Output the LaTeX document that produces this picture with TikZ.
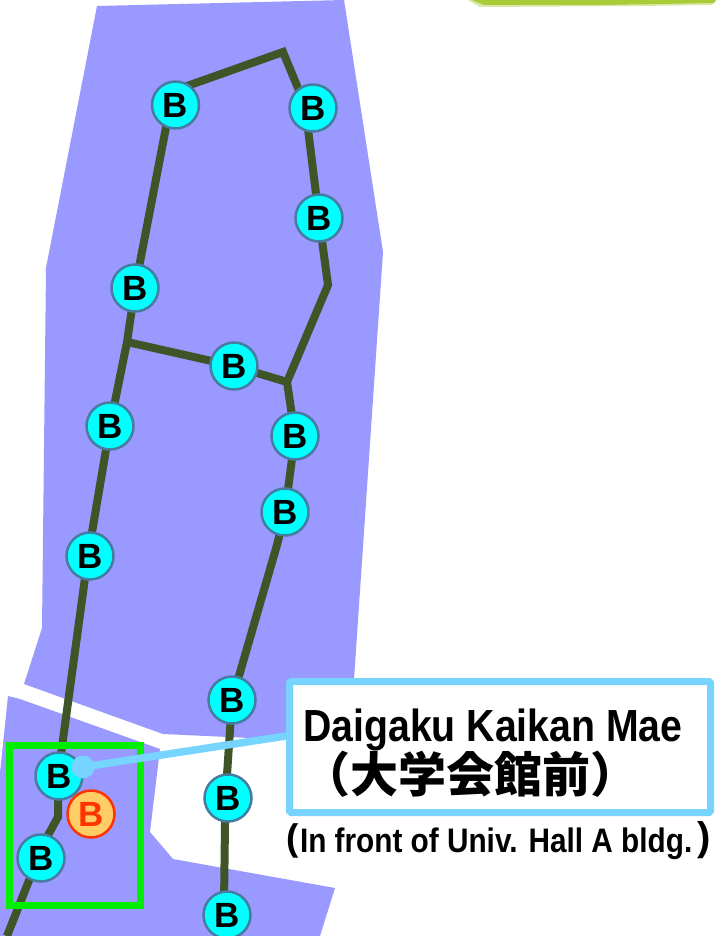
\documentclass[tikz,border=0pt]{standalone}
\usepackage{fontspec}
\setmainfont{Liberation Sans}
\newfontfamily\cjkfont{Noto Sans CJK JP}
\definecolor{region}{HTML}{9999FF}
\definecolor{route}{HTML}{3F5527}
\definecolor{stopedge}{HTML}{457CA0}
\definecolor{stopfill}{HTML}{00FFFF}
\definecolor{callout}{HTML}{77D4FF}
\definecolor{framegreen}{HTML}{00EE00}
\definecolor{leaf}{HTML}{A9CB37}
\definecolor{herered}{HTML}{FF3300}
\definecolor{herefill}{HTML}{FFCC66}
\tikzset{
  area/.style={fill=region,draw=none},
  routeline/.style={draw=route,line width=8pt,line join=miter},
  busstop/.style={circle,draw=stopedge,line width=2.5pt,fill=stopfill,minimum size=47pt,inner sep=0pt,text=black,font=\bfseries\fontsize{35}{35}\selectfont},
  herestop/.style={circle,draw=herered,line width=2.5pt,fill=herefill,minimum size=47pt,inner sep=0pt,text=herered,font=\bfseries\fontsize{35}{35}\selectfont},
  linktext/.style={anchor=base west,inner sep=0pt,text=black},
}
\begin{document}
\begin{tikzpicture}[x=1pt,y=-1pt]
\useasboundingbox (0,0) rectangle (716,936);
\fill[white] (0,0) rectangle (716,936);
% green strip at the top right
\fill[leaf!45!white] (468,0) -- (716,0) -- (712,5) -- (640,6) -- (480,7) -- cycle;
\fill[leaf] (472,0) -- (716,0) -- (714,3) -- (600,5) -- (484,5) -- cycle;
% regions
\fill[area] (97,6) -- (344,0) -- (383,252) -- (350,738) -- (250,738) -- (163,734) -- (24,684) -- (42,628) -- (46,268) -- cycle;
\fill[area] (8,696) -- (20,699) -- (160,749) -- (150,832) -- (173,859) -- (335,888) -- (320,936) -- (0,936) -- (0,773) -- cycle;
% route
\coordinate (start) at (7,936);
\coordinate (a1) at (28,883);
\coordinate (a2) at (47,837);
\coordinate (a3) at (58,817);
\coordinate (a4) at (58,776);
\coordinate (a5) at (88,556);
\coordinate (a6) at (110,426);
\coordinate (junction) at (127,342);
\coordinate (a7) at (135,288);
\coordinate (a8) at (173,91);
\coordinate (top) at (283,52);
\coordinate (a9) at (305,105);
\coordinate (a10) at (319,218);
\coordinate (bendB) at (328,285);
\coordinate (fork) at (287,382);
\coordinate (a11) at (295,436);
\coordinate (a12) at (285,512);
\coordinate (bendC) at (277,545);
\coordinate (a13) at (232,700);
\coordinate (a14) at (227,775);
\coordinate (a15) at (225,823);
\coordinate (a16) at (224,905);
\coordinate (a17) at (234,366);
\draw[routeline] (start) -- (a1) -- (a2) -- (a3) -- (a4) -- (a5) -- (a6) -- (junction) -- (a7) -- (a8) -- (top) -- (a9) -- (a10) -- (bendB) -- (fork) -- (a11) -- (a12) -- (bendC) -- (a13) -- (a14) -- (a15) -- (a16);
\draw[routeline] (junction) -- (a17) -- (fork);
\draw[framegreen,line width=7pt] (9.5,745.5) rectangle (140.5,905.5);
% stops
\node[busstop] (s1) at (41,858) {B};
\node[busstop] (s2) at (59,776) {B};
\node[busstop] (s3) at (90,556) {B};
\node[busstop] (s4) at (110,426) {B};
\node[busstop] (s5) at (135,288) {B};
\node[busstop] (s6) at (175.5,105) {B};
\node[busstop] (s7) at (313,108) {B};
\node[busstop] (s8) at (319,218) {B};
\node[busstop] (s9) at (234,366) {B};
\node[busstop] (s10) at (295,436) {B};
\node[busstop] (s11) at (285,512) {B};
\node[busstop] (s12) at (232,700) {B};
\node[busstop] (s13) at (228,798) {B};
\node[busstop] (s14) at (227,915) {B};
\node[herestop] (here) at (91,814) {B};
% callout
\node[draw=callout,line width=7pt,fill=white,rounded corners=1.5pt,minimum width=421pt,minimum height=131pt,inner sep=0pt] (box) at (500,747) {};
\coordinate (boxport) at (box.west |- 0,736);
\coordinate (dot) at (83,767);
\fill[callout] (dot) circle[radius=11.5pt];
\draw[callout,line width=7.5pt] (dot) -- (boxport);
\node[linktext] (name) at (303,741) {\scalebox{0.872}[1]{\bfseries\fontsize{45}{45}\selectfont Daigaku Kaikan Mae}};
\node[linktext] (kanji) at (302,792) {\cjkfont\bfseries\fontsize{48}{48}\selectfont （大学会館前）};
\node[linktext] (note) at (286,852) {\bfseries\raisebox{2pt}{\fontsize{37}{37}\selectfont (}\kern1.5pt\scalebox{0.875}[1]{\fontsize{34}{34}\selectfont In front of Univ. Hall A bldg.}\kern5pt\raisebox{2pt}{\fontsize{40}{40}\selectfont )}};
\end{tikzpicture}
\end{document}
